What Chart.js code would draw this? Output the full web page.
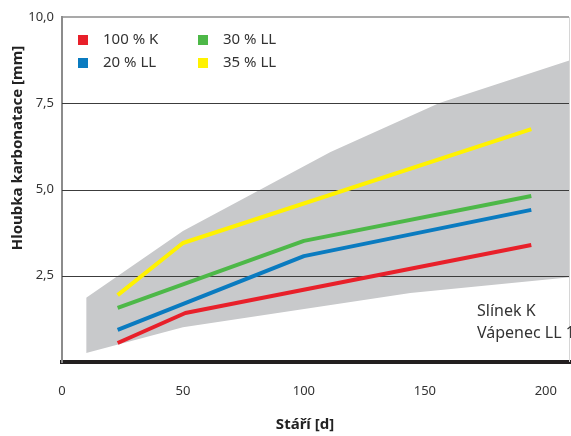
<!DOCTYPE html>
<html>
<head>
<meta charset="utf-8">
<script src="https://cdn.jsdelivr.net/npm/chart.js@4/dist/chart.umd.min.js"></script>
<style>
html,body{margin:0;padding:0;background:#fff;overflow:hidden;}
#wrap{width:571px;height:436px;position:relative;}
</style>
</head>
<body>
<div id="wrap"><canvas id="c"></canvas></div>
<script>
// ---- data ----
const seriesLabels = ["100 % K", "20 % LL", "30 % LL", "35 % LL"];
const seriesColors = ["#e8202a", "#0a7bc0", "#4db848", "#fff200"];
const xK    = [23, 51, 194];
const yK    = [0.55, 1.42, 3.39];
const xLL20 = [23, 100, 194];
const yLL20 = [0.93, 3.07, 4.41];
const xLL30 = [23, 100, 194];
const yLL30 = [1.57, 3.51, 4.81];
const xLL35 = [23, 50, 194];
const yLL35 = [1.94, 3.45, 6.75];
const bandUpperX = [10, 50, 111, 156, 210];
const bandUpperY = [1.86, 3.8, 6.09, 7.51, 8.75];
const bandLowerX = [10, 50, 144, 210];
const bandLowerY = [0.26, 1.01, 2.0, 2.46];
const xTicks = [0, 50, 100, 150, 200];
const yTicks = [2.5, 5, 7.5, 10];
const xTitle = "Stáří [d]";
const yTitle = "Hloubka karbonatace [mm]";
const noteLines = ["Slínek K", "Vápenec LL 1"];

const pts = (xs, ys) => xs.map((x, i) => ({x: x, y: ys[i]}));
const FONT = "'Noto Sans', 'Open Sans', sans-serif";

const lineSets = [[xK,yK],[xLL20,yLL20],[xLL30,yLL30],[xLL35,yLL35]].map((d, i) => ({
  label: seriesLabels[i],
  data: pts(d[0], d[1]),
  borderColor: seriesColors[i],
  backgroundColor: seriesColors[i],
  borderWidth: 4,
  pointRadius: 0,
  tension: 0,
  fill: false,
  borderCapStyle: 'butt',
  borderJoinStyle: 'round'
}));

const datasets = lineSets.concat([
  { label: "bandUpper", data: pts(bandUpperX, bandUpperY), borderWidth: 0, borderColor: 'rgba(0,0,0,0)',
    backgroundColor: '#c8c9cb', pointRadius: 0, fill: '+1', tension: 0 },
  { label: "bandLower", data: pts(bandLowerX, bandLowerY), borderWidth: 0, borderColor: 'rgba(0,0,0,0)',
    backgroundColor: '#c8c9cb', pointRadius: 0, fill: false, tension: 0 }
]);

const decor = {
  id: 'decor',
  afterDatasetDraw(chart, args) {
    if (args.index !== 4) return;
    const ctx = chart.ctx, a = chart.chartArea, ys = chart.scales.y;
    ctx.save();
    ctx.strokeStyle = '#3c3c3c';
    ctx.lineWidth = 1;
    yTicks.forEach(v => {
      if (v >= 10) return;
      const y = Math.round(ys.getPixelForValue(v)) + 0.5;
      ctx.beginPath(); ctx.moveTo(a.left, y); ctx.lineTo(a.right - 1, y); ctx.stroke();
    });
    ctx.restore();
  },
  afterDraw(chart) {
    const ctx = chart.ctx, a = chart.chartArea;
    ctx.save();
    // top and right frame
    ctx.strokeStyle = '#8c8c8c'; ctx.lineWidth = 1.5;
    ctx.beginPath(); ctx.moveTo(a.left, a.top); ctx.lineTo(a.right - 1, a.top); ctx.stroke();
    ctx.strokeStyle = '#d6d6d6'; ctx.lineWidth = 1;
    ctx.beginPath(); ctx.moveTo(a.right - 0.5, a.top); ctx.lineTo(a.right - 0.5, a.bottom); ctx.stroke();
    // legend
    ctx.font = "15px " + FONT;
    ctx.textBaseline = 'middle';
    ctx.textAlign = 'left';
    const pos = [[78, 40], [78, 63], [198, 40], [198, 63]];
    for (let i = 0; i < 4; i++) {
      const ds = chart.data.datasets[i];
      const [px, py] = pos[i];
      ctx.fillStyle = ds.borderColor;
      ctx.fillRect(px, py - 5, 10, 10);
      ctx.fillStyle = '#333';
      ctx.fillText(ds.label, px + 25, py);
    }
    // note text
    ctx.font = "16px " + FONT;
    ctx.fillStyle = '#333';
    ctx.fillText(noteLines[0], 477, 311);
    ctx.fillText(noteLines[1], 477, 333);
    // axis titles
    ctx.font = "bold 15px " + FONT;
    ctx.fillStyle = '#222';
    ctx.textAlign = 'center';
    ctx.fillText(xTitle, 305, 425);
    ctx.translate(18, 148);
    ctx.rotate(-Math.PI / 2);
    ctx.fillText(yTitle, 0, 0);
    ctx.restore();
  }
};

new Chart(document.getElementById('c'), {
  type: 'line',
  data: { datasets: datasets },
  options: {
    responsive: true,
    maintainAspectRatio: false,
    animation: false,
    layout: { padding: { top: 17, right: 1, left: 0, bottom: 0 } },
    plugins: { legend: { display: false }, tooltip: { enabled: false } },
    scales: {
      x: {
        type: 'linear', min: 0, max: 210,
        afterBuildTicks: s => { s.ticks = xTicks.map(v => ({ value: v })); },
        afterFit: s => { s.height = 74; s.paddingLeft = 0; s.paddingRight = 0; },
        grid: { display: false, drawTicks: false },
        border: { display: true, color: '#231f20', width: 4 },
        ticks: { padding: 21, color: '#333', font: { size: 13, family: FONT }, maxRotation: 0 }
      },
      y: {
        type: 'linear', min: 0, max: 10,
        afterBuildTicks: s => { s.ticks = yTicks.map(v => ({ value: v })); },
        afterFit: s => { s.width = 62; s.paddingTop = 0; s.paddingBottom = 0; },
        grid: { display: false, drawTicks: false },
        border: { display: true, color: '#8c8c8c', width: 2 },
        ticks: { padding: 8, color: '#333', font: { size: 13, family: FONT },
          callback: v => v.toFixed(1).replace('.', ',') }
      }
    }
  },
  plugins: [decor]
});
</script>
</body>
</html>
